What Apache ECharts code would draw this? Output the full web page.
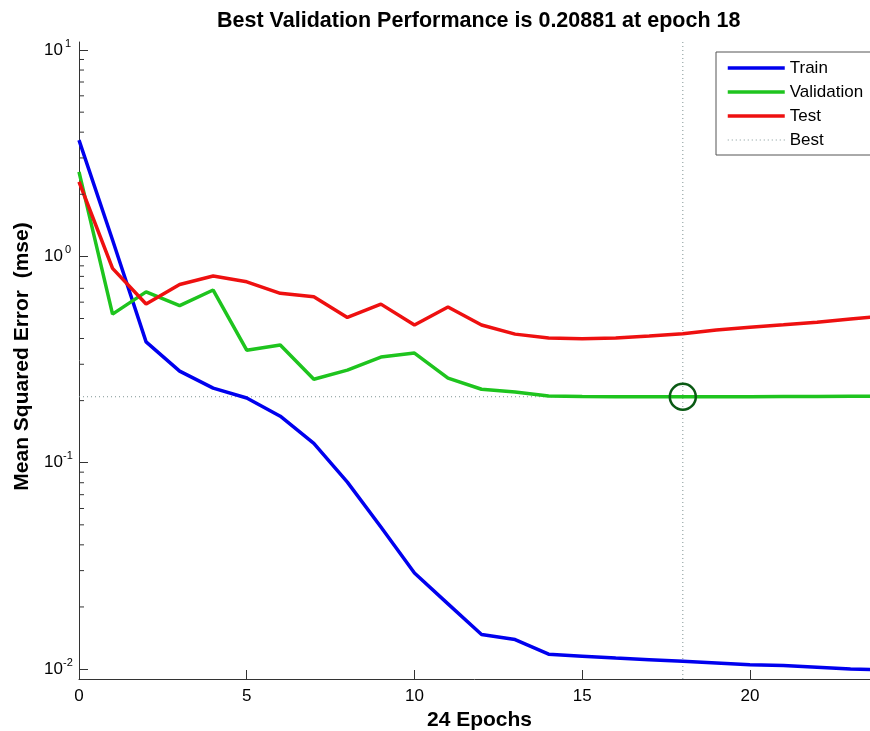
<!DOCTYPE html>
<html>
<head>
<meta charset="utf-8">
<script src="https://cdn.jsdelivr.net/npm/echarts@6/dist/echarts.min.js"></script>
<style>
  html, body { margin: 0; padding: 0; background: #fff; }
  #main { width: 870px; height: 731px; }
</style>
</head>
<body>
<div id="main"></div>
<script>
// epochs 0..24
const epochs = [0, 1, 2, 3, 4, 5, 6, 7, 8, 9, 10, 11, 12, 13, 14, 15, 16, 17, 18, 19, 20, 21, 22, 23, 24];

// mean squared error per epoch
const train = [3.66, 1.2, 0.385, 0.278, 0.230, 0.206, 0.168, 0.124, 0.0805, 0.0488, 0.0292, 0.0207, 0.0147,
  0.0139, 0.0118, 0.01155, 0.0113, 0.0111, 0.0109, 0.0107, 0.0105, 0.0104, 0.0102, 0.0100, 0.0099];
const validation = [2.57, 0.525, 0.673, 0.577, 0.687, 0.351, 0.372, 0.254, 0.281, 0.325, 0.340, 0.257, 0.227,
  0.220, 0.2105, 0.2095, 0.209, 0.2089, 0.20881, 0.2089, 0.209, 0.2092, 0.2095, 0.2098, 0.2100];
const test = [2.30, 0.875, 0.588, 0.731, 0.803, 0.753, 0.662, 0.637, 0.506, 0.587, 0.465, 0.568, 0.465,
  0.420, 0.402, 0.399, 0.402, 0.411, 0.422, 0.440, 0.454, 0.466, 0.480, 0.497, 0.514];

const bestEpoch = 18;
const bestPerf = 0.20881;

// axis limits (the original picture is cropped just before epoch 24)
const xMin = 0, xMax = 23.58;
const yMin = 0.00895, yMax = 10.94;

// log minor ticks (2..9 x 10^n)
const minorTicks = [0.02, 0.03, 0.04, 0.05, 0.06, 0.07, 0.08, 0.09,
  0.2, 0.3, 0.4, 0.5, 0.6, 0.7, 0.8, 0.9,
  2, 3, 4, 5, 6, 7, 8, 9];

const font = '"Liberation Sans", Arial, sans-serif';
const myChart = echarts.init(document.getElementById('main'));

const option = {
  animation: false,
  backgroundColor: '#fff',
  title: {
    text: 'Best Validation Performance is ' + bestPerf + ' at epoch ' + bestEpoch,
    left: 217,
    top: 10,
    padding: 0,
    textStyle: { fontFamily: font, fontSize: 21.5, fontWeight: 'bold', color: '#000' }
  },
  legend: {
    data: [
      { name: 'Train', lineStyle: { width: 3.5 } },
      { name: 'Validation', lineStyle: { width: 3.5 } },
      { name: 'Test', lineStyle: { width: 3.5 } },
      { name: 'Best', lineStyle: { width: 1 } }
    ],
    orient: 'vertical',
    left: 716,
    top: 52,
    padding: [6, 40, 5, 10],
    itemGap: 4,
    itemWidth: 57,
    itemHeight: 14,
    selectedMode: false,
    itemStyle: { opacity: 0 },
    backgroundColor: '#fff',
    borderColor: '#555',
    borderWidth: 1,
    borderRadius: 0,
    textStyle: { fontFamily: font, fontSize: 17, color: '#000', lineHeight: 20 }
  },
  grid: { left: 79, right: 0, top: 42, bottom: 52, outerBoundsMode: 'none', containLabel: false },
  xAxis: {
    type: 'value',
    min: xMin,
    max: xMax,
    interval: 5,
    name: '24 Epochs',
    nameLocation: 'middle',
    nameGap: 31,
    nameTextStyle: { fontFamily: font, fontSize: 21, fontWeight: 'bold', color: '#000', padding: [0, 0, 0, 10] },
    axisLine: { show: true, lineStyle: { color: '#333', width: 1 } },
    axisTick: { show: true, inside: true, length: 9, lineStyle: { color: '#333' } },
    axisLabel: { fontFamily: font, fontSize: 17, color: '#000', margin: 9, showMaxLabel: false },
    splitLine: { show: false }
  },
  yAxis: {
    type: 'log',
    logBase: 10,
    min: yMin,
    max: yMax,
    name: 'Mean Squared Error  (mse)',
    nameLocation: 'middle',
    nameGap: 38,
    nameTextStyle: { fontFamily: font, fontSize: 21, fontWeight: 'bold', color: '#000', padding: [0, 0, 0, 8] },
    axisLine: { show: true, lineStyle: { color: '#333', width: 1 } },
    axisTick: { show: true, inside: true, length: 9, lineStyle: { color: '#333' } },
    axisLabel: {
      margin: 6,
      showMinLabel: false,
      showMaxLabel: false,
      formatter: function (v) {
        return '{b|10}{s|' + Math.round(Math.log10(v)) + '}';
      },
      rich: {
        b: { fontFamily: font, fontSize: 17, color: '#000', lineHeight: 24 },
        s: { fontFamily: font, fontSize: 11, color: '#000', width: 10, align: 'left', verticalAlign: 'top', lineHeight: 12 }
      }
    },
    splitLine: { show: false }
  },
  series: [
    {
      name: 'Best',
      type: 'line',
      symbol: 'none',
      color: '#7f9494',
      lineStyle: { width: 1, type: [1, 3] },
      data: [[0, bestPerf], [24, bestPerf]],
      z: 1
    },
    {
      name: 'Best',
      type: 'line',
      symbol: 'none',
      color: '#7f9494',
      lineStyle: { width: 1, type: [1, 3] },
      data: [[bestEpoch, yMin], [bestEpoch, yMax]],
      z: 1
    },
    {
      name: 'Train',
      type: 'line',
      symbol: 'none',
      color: '#0000ee',
      lineStyle: { width: 3.5 },
      data: epochs.map((e, i) => [e, train[i]]),
      z: 2
    },
    {
      name: 'Validation',
      type: 'line',
      symbol: 'none',
      color: '#1ec41e',
      lineStyle: { width: 3.5 },
      data: epochs.map((e, i) => [e, validation[i]]),
      z: 2
    },
    {
      name: 'Test',
      type: 'line',
      symbol: 'none',
      color: '#ee1010',
      lineStyle: { width: 3.5 },
      data: epochs.map((e, i) => [e, test[i]]),
      z: 2
    },
    {
      name: 'bestPoint',
      type: 'scatter',
      symbol: 'circle',
      symbolSize: 26,
      silent: true,
      itemStyle: { color: 'rgba(0,0,0,0)', borderColor: '#0a5a14', borderWidth: 2.5, opacity: 1 },
      data: [[bestEpoch, bestPerf]],
      z: 3
    },
    {
      // minor ticks on the log axis
      name: 'minor',
      type: 'custom',
      silent: true,
      data: minorTicks.map(v => [xMin, v]),
      renderItem: function (params, api) {
        const p = api.coord([api.value(0), api.value(1)]);
        return {
          type: 'line',
          shape: { x1: p[0], y1: p[1], x2: p[0] + 5, y2: p[1] },
          style: { stroke: '#333', lineWidth: 1 }
        };
      },
      z: 4
    }
  ]
};

myChart.setOption(option);
</script>
</body>
</html>
